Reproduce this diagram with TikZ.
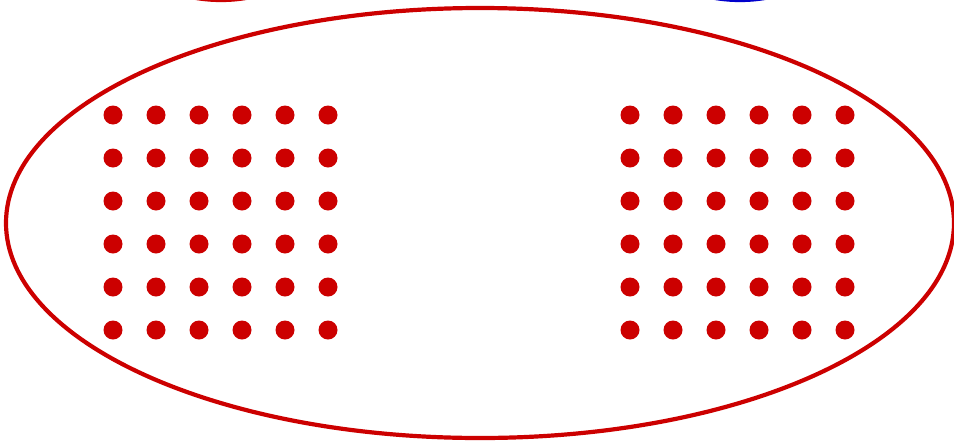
\documentclass[tikz,border=0pt]{standalone}
\usepackage{tikz}
\usetikzlibrary{positioning}

\definecolor{dotred}{RGB}{204,0,0}
\definecolor{ringblue}{RGB}{0,0,204}

\begin{document}
\begin{tikzpicture}[
			x=1pt,y=-1pt,
			dot/.style={
					circle,
					fill=dotred,
					inner sep=0pt,
					minimum size=19pt
				},
			ring/.style={
					line width=4.2pt
				}
		]

		\useasboundingbox (0,0) rectangle (954,445);

		% partial outlines at the top edge
		\draw[ring,draw=dotred] (221,-150) circle (150);
		\draw[ring,draw=ringblue] (740,-150) circle (150);

		% outer ellipse
		\draw[ring,draw=dotred] (480,223) ellipse (474 and 215);

		% left and right dot grids
		\foreach \i in {0,...,5}{
				\foreach \j in {0,...,5}{
						\node[dot] (l-\i-\j) at (113+43*\i,115+43*\j) {};
						\node[dot] (r-\i-\j) at (630+43*\i,115+43*\j) {};
					}
			}

	\end{tikzpicture}
\end{document}
